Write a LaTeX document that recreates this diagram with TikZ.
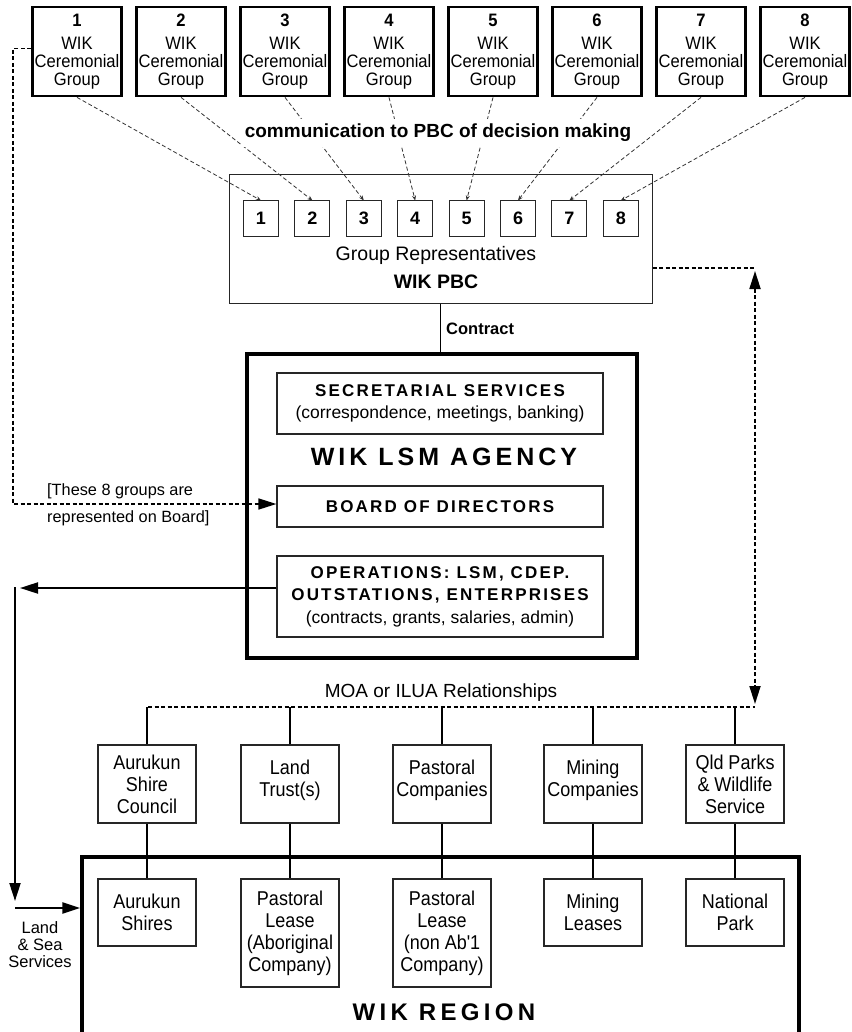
\documentclass[tikz,border=0pt]{standalone}
\usepackage{fontspec}
\setmainfont{Liberation Sans}
\newfontfamily\narrowf[FakeStretch=0.9]{Liberation Sans}
\newfontfamily\groupf[FakeStretch=0.92]{Liberation Sans}
\newfontfamily\spacedf[LetterSpace=13]{Liberation Sans}
\newfontfamily\spacedg[LetterSpace=16]{Liberation Sans}
\newfontfamily\spacedr[LetterSpace=18]{Liberation Sans}
\usetikzlibrary{arrows.meta}
\newcommand{\fs}[2]{\fontsize{#1}{#2}\selectfont}
\begin{document}
\begin{tikzpicture}[x=1pt,y=-1pt,
  groupbox/.style={draw=black, line width=2.8pt, minimum width=89pt, minimum height=89pt, inner sep=0pt, align=center, font=\groupf\fs{18}{18}},
  smallbox/.style={draw=black!85, line width=1pt, minimum width=35pt, minimum height=35pt, inner sep=0pt, font=\bfseries\fs{18}{18}},
  thinbox/.style={draw=black!85, line width=1.2pt, inner sep=0pt, align=center},
  compbox/.style={draw=black!85, line width=1.2pt, inner sep=0pt, align=center, minimum width=98pt, font=\narrowf\fs{20}{22}},
  commline/.style={draw=black!80, line width=0.8pt, dash pattern=on 4pt off 2.5pt, -{Stealth[length=5pt,width=4pt]}},
  bigtip/.style={-{Triangle[length=18pt,width=11pt]}},
  thickdash/.style={line width=1.8pt, dash pattern=on 4pt off 2.5pt},
  plain/.style={inner sep=0pt}
]
\useasboundingbox (0,0) rectangle (851,1032);
\fill[white] (0,0) rectangle (851,1032);

% top group boxes
\foreach \i in {1,...,8} {
  \node[groupbox] (g\i) at ({77+104*(\i-1)},51.5) {\textbf{\i}\\[5pt]WIK\\Ceremonial\\Group};
}

% PBC
\node[draw=black!85, line width=1pt, minimum width=423pt, minimum height=128pt, inner sep=0pt] (pbc) at (440.5,239) {};
\foreach \i in {1,...,8} {
  \node[smallbox] (s\i) at ({261+51.4*(\i-1)},218.5) {\i};
}
\node[plain, font=\fs{19.5}{20}] (grp) at (436,255) {Group Representatives};
\node[plain, font=\bfseries\fs{19.5}{20}] (wpbc) at (436,282) {WIK PBC};

\foreach \i in {1,...,8} {
  \draw[commline] (g\i.south) -- (s\i.north);
}
\node[fill=white, inner xsep=3pt, inner ysep=5pt, font=\bfseries\fs{19}{20}] (comm) at (438,133) {communication to PBC of decision making};

% agency
\node[draw=black, line width=4.5pt, minimum width=390pt, minimum height=304pt, inner sep=0pt] (agency) at (442,506) {};
\draw[line width=1.2pt] (pbc.south) -- (pbc.south |- agency.north);
\node[plain, anchor=west, font=\bfseries\fs{16.5}{17}] (contract) at (446,329) {Contract};

\node[thinbox, minimum width=326pt, minimum height=61pt, font=\fs{17.5}{22}] (sec) at (440,403.5)
  {{\spacedf\bfseries\fs{17}{22}SECRETARIAL SERVICES}\\(correspondence, meetings, banking)};
\node[plain, font=\spacedg\bfseries\fs{25}{25}] (agname) at (444,457) {WIK LSM AGENCY};
\node[thinbox, minimum width=326pt, minimum height=41pt, font=\spacedf\bfseries\fs{17}{22}] (board) at (440,506.5) {BOARD OF DIRECTORS};
\node[thinbox, minimum width=326pt, minimum height=81pt, font=\fs{17.5}{22.5}] (ops) at (440,596.5)
  {{\spacedf\bfseries\fs{17}{22.5}OPERATIONS: LSM, CDEP.}\\{\spacedf\bfseries\fs{17}{22.5}OUTSTATIONS, ENTERPRISES}\\(contracts, grants, salaries, admin)};

% left dashed to board
\draw[line width=1.5pt, dash pattern=on 4pt off 2.5pt, bigtip] ([yshift=3pt]g1.west) -- ++(-18,0) |- ([yshift=2.5pt]board.west);
\node[plain, anchor=west, font=\fs{16.3}{17}] (t8a) at (47,491) {[These 8 groups are};
\node[plain, anchor=west, font=\fs{16.3}{17}] (t8b) at (47,518) {represented on Board]};

% operations arrow and land & sea
\coordinate (opsarrow) at (20,588);
\draw[line width=2pt, bigtip] ([yshift=8.5pt]ops.west) -- (opsarrow);
\coordinate (lvtop) at (15,587);
\coordinate (lvbot) at (15,901);
\draw[line width=2pt, bigtip] (lvtop) -- (lvbot);

% region
\node[draw=black, line width=3.5pt, minimum width=717pt, minimum height=188pt, inner sep=0pt] (region) at (440.5,951) {};
\node[plain, font=\spacedr\bfseries\fs{24}{24}] (regname) at (444,1012) {WIK REGION};

\coordinate (lsstart) at (15,908);
\draw[line width=2.5pt, bigtip] (lsstart) -- (lsstart -| region.west);
\node[plain, align=center, font=\fs{16.5}{17}] (lss) at (40,945) {Land\\\& Sea\\Services};

% right dashed
\coordinate (pr) at ([yshift=-29pt]pbc.east);
\coordinate (rc) at (755,268);
\coordinate (rtop) at (755,271);
\coordinate (rbot) at (755,704);
\draw[thickdash] (pr) -- (rc);
\draw[thickdash, {Triangle[length=18pt,width=11pt]}-{Triangle[length=18pt,width=11pt]}] (rtop) -- (rbot);

% MOA
\coordinate (moaL) at (148,707);
\coordinate (moaR) at (755,707);
\draw[line width=1.5pt, dash pattern=on 4pt off 2.5pt] (moaL) -- (moaR);
\node[plain, font=\fs{19}{20}] (moa) at (441,693) {MOA or ILUA Relationships};

% companies
\node[compbox, minimum height=78pt] (c1) at (147,784) {Aurukun\\Shire\\Council};
\node[compbox, minimum height=78pt] (c2) at (290,784) {Land\\Trust(s)\\[-10pt]\mbox{}};
\node[compbox, minimum height=78pt] (c3) at (442,784) {Pastoral\\Companies\\[-10pt]\mbox{}};
\node[compbox, minimum height=78pt] (c4) at (593,784) {Mining\\Companies\\[-10pt]\mbox{}};
\node[compbox, minimum height=78pt] (c5) at (735,784) {Qld Parks\\\& Wildlife\\Service};

\node[compbox, minimum height=67pt] (b1) at (147,912.5) {Aurukun\\Shires};
\node[compbox, minimum height=108pt] (b2) at (290,933) {Pastoral\\Lease\\(Aboriginal\\Company)};
\node[compbox, minimum height=108pt] (b3) at (442,933) {Pastoral\\Lease\\(non Ab'1\\Company)};
\node[compbox, minimum height=67pt] (b4) at (593,912.5) {Mining\\Leases};
\node[compbox, minimum height=67pt] (b5) at (735,912.5) {National\\Park};

\foreach \i in {1,...,5} {
  \draw[line width=1.5pt] (c\i.north) -- (c\i.north |- moaL);
  \draw[line width=1.5pt] (c\i.south) -- (b\i.north);
}
\end{tikzpicture}
\end{document}
